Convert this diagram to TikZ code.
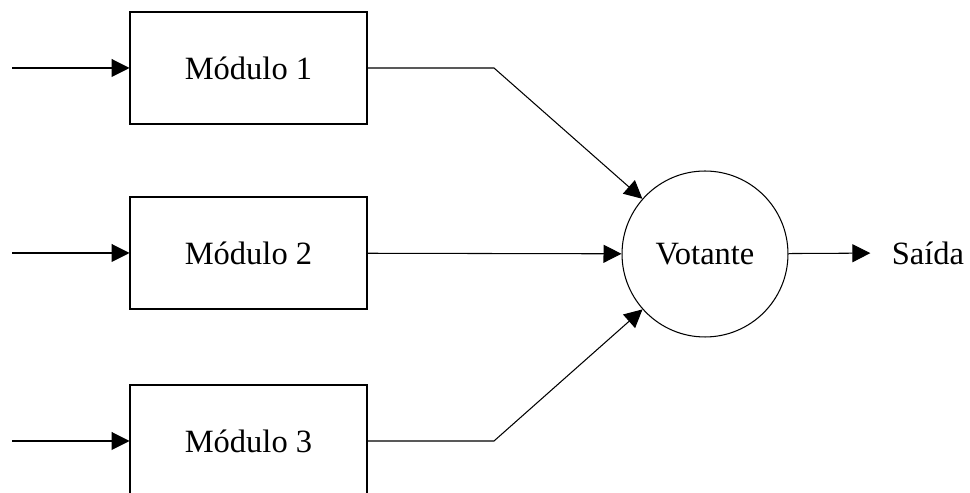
\documentclass[tikz,border=0pt]{standalone}
\usepackage{fontspec}
\setmainfont{Liberation Serif}
\usetikzlibrary{arrows.meta, positioning, calc}
\tikzset{
    modbox/.style={draw, minimum width=4.74cm, minimum height=2.24cm, inner sep=0pt},
    voter/.style={draw, circle, minimum size=3.32cm, inner sep=0pt},
    flow/.style={-{Triangle[length=0.36cm, width=0.36cm]}},
}

\begin{document}
\begin{tikzpicture}[x=0.02cm, y=0.02cm, line width=0.6pt,
    font=\fontsize{18.5}{22}\selectfont]
        \clip (0,0) rectangle (970,493);

        % Modules
        \node[modbox] (m1) at (248.5,425) {Módulo 1};
        \node[modbox] (m2) at (248.5,240) {Módulo 2};
        \node[modbox] (m3) at (248.5,52) {Módulo 3};

        % Voter and output
        \node[voter] (vot) at (705,239) {Votante};
        \node[inner sep=0pt] (out) at (928,240) {Saída};

        % Inputs
        \coordinate (in1) at (12,425);
        \coordinate (in2) at (12,240);
        \coordinate (in3) at (12,52);
        \draw[flow] (in1) -- (m1);
        \draw[flow] (in2) -- (m2);
        \draw[flow] (in3) -- (m3);

        % Module outputs to voter
        \coordinate (k1) at (494,425);
        \coordinate (k3) at (494,52);
        \draw[flow] (m1.east) -- (k1) -- (vot);
        \draw[flow] (m2) -- (vot);
        \draw[flow] (m3.east) -- (k3) -- (vot);

        % Result
        \draw[flow, shorten >=0.42cm] (vot) -- (out.west);
    \end{tikzpicture}
\end{document}
